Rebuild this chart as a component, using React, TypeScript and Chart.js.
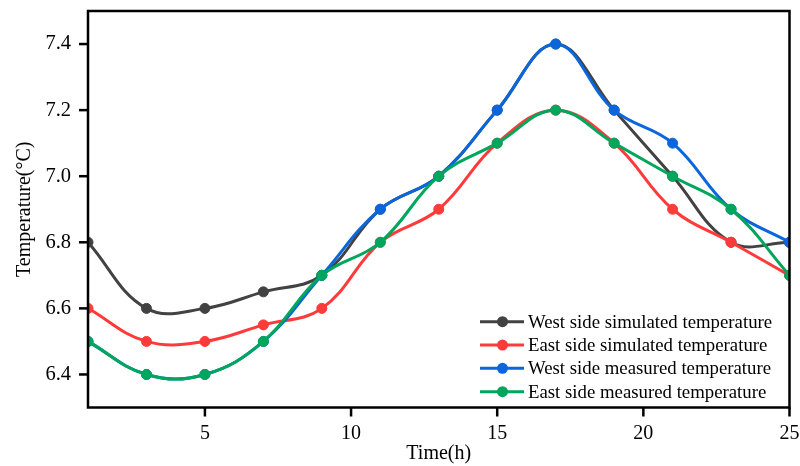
import React, { useEffect, useRef } from "react";
import { Chart, registerables } from "chart.js";

Chart.register(...registerables);

const HOURS = [1, 3, 5, 7, 9, 11, 13, 15, 17, 19, 21, 23, 25];
const WEST_SIM = [6.8, 6.6, 6.6, 6.65, 6.7, 6.9, 7.0, 7.2, 7.4, 7.2, 7.0, 6.8, 6.8];
const EAST_SIM = [6.6, 6.5, 6.5, 6.55, 6.6, 6.8, 6.9, 7.1, 7.2, 7.1, 6.9, 6.8, 6.7];
const WEST_MEAS = [6.5, 6.4, 6.4, 6.5, 6.7, 6.9, 7.0, 7.2, 7.4, 7.2, 7.1, 6.9, 6.8];
const EAST_MEAS = [6.5, 6.4, 6.4, 6.5, 6.7, 6.8, 7.0, 7.1, 7.2, 7.1, 7.0, 6.9, 6.7];
const SERIES_LABELS = [
  "West side simulated temperature",
  "East side simulated temperature",
  "West side measured temperature",
  "East side measured temperature",
];
const SERIES_COLORS = ["#424242", "#ff3a3a", "#0a66dc", "#00a65c"];
const X_TICKS = [5, 10, 15, 20, 25];
const Y_TICKS = [6.4, 6.6, 6.8, 7.0, 7.2, 7.4];
const X_TITLE = "Time(h)";
const Y_TITLE = "Temperature(°C)";

const FONT = "'Liberation Serif', 'Times New Roman', serif";
const TICK_LEN = 9;

const framePlugin = {
  id: "frame",
  afterDraw(chart: any) {
    const ctx: CanvasRenderingContext2D = chart.ctx;
    const { chartArea } = chart;
    const xs = chart.scales.x;
    const ys = chart.scales.y;
    ctx.save();
    ctx.strokeStyle = "#000";
    ctx.fillStyle = "#000";
    ctx.lineWidth = 2.5;
    ctx.beginPath();
    ctx.moveTo(chartArea.left, chartArea.bottom);
    ctx.lineTo(chartArea.left, chartArea.top);
    ctx.lineTo(chartArea.right, chartArea.top);
    ctx.lineTo(chartArea.right, chartArea.bottom);
    ctx.closePath();
    ctx.stroke();
    for (const v of X_TICKS) {
      const px = xs.getPixelForValue(v);
      ctx.fillRect(px - 1.25, chartArea.bottom, 2.5, TICK_LEN);
    }
    for (const v of Y_TICKS) {
      const py = ys.getPixelForValue(v);
      ctx.fillRect(chartArea.left - TICK_LEN, py - 1.25, TICK_LEN, 2.5);
    }
    ctx.restore();
  },
};

const legendPlugin = {
  id: "customLegend",
  afterDraw(chart: any) {
    const { ctx, chartArea } = chart;
    const datasets = chart.data.datasets;
    ctx.save();
    ctx.font = `18.8px ${FONT}`;
    ctx.textBaseline = "middle";
    ctx.textAlign = "left";
    datasets.forEach((ds: any, i: number) => {
      const y = chartArea.bottom - 85.8 + i * 23.33;
      const x0 = chartArea.right - 309.5;
      const x1 = chartArea.right - 265.5;
      const cx = chartArea.right - 287;
      ctx.strokeStyle = ds.borderColor;
      ctx.lineWidth = 3;
      ctx.beginPath();
      ctx.moveTo(x0, y);
      ctx.lineTo(x1, y);
      ctx.stroke();
      ctx.fillStyle = ds.borderColor;
      ctx.beginPath();
      ctx.arc(cx, y, 5.5, 0, Math.PI * 2);
      ctx.fill();
      ctx.fillStyle = "#000";
      ctx.fillText(ds.label, chartArea.right - 261.5, y + 1);
    });
    ctx.restore();
  },
};

const SERIES = [WEST_SIM, EAST_SIM, WEST_MEAS, EAST_MEAS];
const DRAW_ORDER = [3, 2, 1, 0];

export default function App() {
  const ref = useRef<HTMLCanvasElement | null>(null);

  useEffect(() => {
    if (!ref.current) return;
    const chart = new Chart(ref.current, {
      type: "line",
      data: {
        datasets: SERIES.map((vals, i) => ({
          label: SERIES_LABELS[i],
          data: HOURS.map((h, j) => ({ x: h, y: vals[j] })),
          borderColor: SERIES_COLORS[i],
          backgroundColor: SERIES_COLORS[i],
          pointBackgroundColor: SERIES_COLORS[i],
          pointBorderColor: SERIES_COLORS[i],
          pointRadius: 5,
          pointBorderWidth: 1,
          borderWidth: 3,
          tension: 0.4,
          fill: false,
          clip: 0,
          order: DRAW_ORDER[i],
        })),
      },
      options: {
        animation: false,
        responsive: false,
        maintainAspectRatio: false,
        layout: { padding: { left: 0, right: 10.5, top: 11, bottom: 0 } },
        plugins: {
          legend: { display: false },
          tooltip: { enabled: false },
        },
        scales: {
          x: {
            type: "linear",
            min: 1,
            max: 25,
            afterBuildTicks: (scale: any) => {
              scale.ticks = X_TICKS.map((v) => ({ value: v }));
            },
            afterFit: (scale: any) => {
              scale.height = 58.5;
              scale.paddingLeft = 0;
              scale.paddingRight = 0;
            },
            grid: { display: false, drawTicks: false },
            border: { display: false },
            ticks: {
              color: "#000",
              font: { family: FONT, size: 20 },
              padding: 5 + TICK_LEN,
              maxRotation: 0,
              callback: (v: any) => String(v),
            },
            title: {
              display: true,
              text: X_TITLE,
              color: "#000",
              font: { family: FONT, size: 20 },
              padding: { top: 0, bottom: 0 },
            },
          },
          y: {
            type: "linear",
            min: 6.3,
            max: 7.5,
            afterBuildTicks: (scale: any) => {
              scale.ticks = Y_TICKS.map((v) => ({ value: v }));
            },
            afterFit: (scale: any) => {
              scale.width = 88;
              scale.paddingTop = 0;
              scale.paddingBottom = 0;
            },
            grid: { display: false, drawTicks: false },
            border: { display: false },
            ticks: {
              color: "#000",
              font: { family: FONT, size: 20.5 },
              padding: 8 + TICK_LEN,
              callback: (v: any) => Number(v).toFixed(1),
            },
            title: {
              display: true,
              text: Y_TITLE,
              color: "#000",
              font: { family: FONT, size: 20 },
              padding: { top: 13, bottom: 0 },
            },
          },
        },
      },
      plugins: [framePlugin, legendPlugin],
    });
    return () => chart.destroy();
  }, []);

  return (
    <div style={{ position: "fixed", left: 0, top: 0, width: 800, height: 466, background: "#fff" }}>
      <canvas ref={ref} width={800} height={466} style={{ display: "block", width: 800, height: 466 }} />
    </div>
  );
}
